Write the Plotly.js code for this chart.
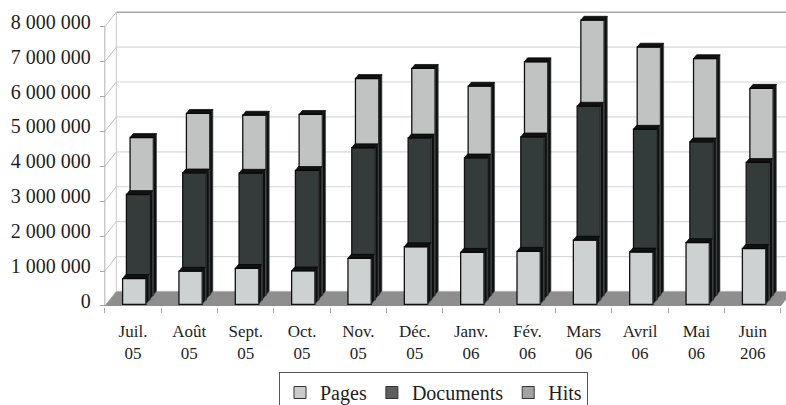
<!DOCTYPE html>
<html>
<head>
<meta charset="utf-8">
<script src="https://cdn.plot.ly/plotly-3.0.1.min.js"></script>
<style>
  html, body { margin: 0; padding: 0; background: #ffffff; }
  #chart { width: 786px; height: 405px; }
</style>
</head>
<body>
<div id="chart"></div>
<script>
// Monthly site statistics, July 2005 - June 2006
const months = ['Juil.<br>05', 'Août<br>05', 'Sept.<br>05', 'Oct.<br>05', 'Nov.<br>05', 'Déc.<br>05',
                'Janv.<br>06', 'Fév.<br>06', 'Mars<br>06', 'Avril<br>06', 'Mai<br>06', 'Juin<br>206'];
const pages     = [740000, 950000, 1030000, 960000, 1320000, 1650000, 1490000, 1520000, 1840000, 1500000, 1770000, 1600000];
const documents = [3010000, 3630000, 3620000, 3700000, 4350000, 4630000, 4060000, 4660000, 5540000, 4880000, 4520000, 3930000];
const hits      = [4510000, 5200000, 5150000, 5170000, 6200000, 6490000, 5980000, 6680000, 7870000, 7100000, 6770000, 5920000];
const yTicks    = [0, 1000000, 2000000, 3000000, 4000000, 5000000, 6000000, 7000000, 8000000];

// ---- pseudo-3D geometry -------------------------------------------------
const W = 786, H = 405;
const X0_PX = 105;          // pixel of the front value axis
const CAT_PX = 56.33;       // pixels per category
const Y0_PX = 305.8;        // pixel of value 0 on the front plane
const UNIT_PX = 34.9 / 1e6; // pixels per unit of value
const DEPTH_X_PX = 11.5, DEPTH_Y_PX = 14.5;       // full depth of the floor

const DX = DEPTH_X_PX / CAT_PX;                     // depth shift, category units
const DY = DEPTH_Y_PX / UNIT_PX;                    // depth shift, value units
const nCat = months.length;
const BW = 0.414;           // front face width (category units)
const BD = 0.27;            // box depth (fraction of full depth)

const xRange = [-0.05, (W - X0_PX) / CAT_PX];
const yRange = [-30000, 8450000];
const mL = X0_PX + xRange[0] * CAT_PX;
const mT = Y0_PX - yRange[1] * UNIT_PX;
const mB = H - (Y0_PX - yRange[0] * UNIT_PX);
const plotW = W - mL;

const centers = months.map((_, i) => i + 0.5);
const bounds = Array.from({length: nCat + 1}, (_, i) => i);

const font = '"Liberation Serif", "Times New Roman", serif';

function frontFace(name, vals, depth, color) {
  return {
    type: 'bar', name: name, x: centers, y: vals,
    base: depth * DY, width: BW, offset: depth * DX - BW / 2,
    marker: {color: color, line: {color: '#111111', width: 1.3}},
    showlegend: false, hoverinfo: 'skip'
  };
}

function boxFaces(vals, depth) {
  const sx = [], sy = [], tx = [], ty = [];
  const ddx = BD * DX, ddy = BD * DY;
  vals.forEach((v, i) => {
    const xl = centers[i] + depth * DX - BW / 2, xr = xl + BW;
    const b = depth * DY, t = b + v;
    sx.push(xr, xr, xr + ddx, xr + ddx, xr, null);
    sy.push(b, t, t + ddy, b + ddy, b, null);
    tx.push(xl, xr, xr + ddx, xl + ddx, xl, null);
    ty.push(t, t, t + ddy, t + ddy, t, null);
  });
  const common = {type: 'scatter', mode: 'lines', fill: 'toself', showlegend: false, hoverinfo: 'skip'};
  return [
    Object.assign({x: sx, y: sy, fillcolor: '#0c1010', line: {color: '#4a4a4a', width: 0.7}}, common),
    Object.assign({x: tx, y: ty, fillcolor: '#101212', line: {color: '#000000', width: 0.7}}, common)
  ];
}

function legendEntry(name, color) {
  return {type: 'bar', name: name, x: [null], y: [null],
          marker: {color: color, line: {color: '#333333', width: 1}}, hoverinfo: 'skip'};
}

const series = [
  {name: 'Hits', vals: hits, depth: 0.76, color: '#c1c3c3'},
  {name: 'Documents', vals: documents, depth: 0.44, color: '#343b3b'},
  {name: 'Pages', vals: pages, depth: 0.11, color: '#ced1d1'}
];

const traces = [
  legendEntry('Pages', '#cbcbcb'),
  legendEntry('Documents', '#5e5e5e'),
  legendEntry('Hits', '#a2a2a2')
];
series.forEach(s => traces.push(frontFace(s.name, s.vals, s.depth, s.color)));
series.forEach(s => boxFaces(s.vals, s.depth).forEach(f => traces.push(f)));

// ---- walls and floor ------------------------------------------------------
const shapes = [];
const wallLine = (x0, y0, x1, y1, color, width) => ({
  type: 'line', xref: 'x', yref: 'y', x0, y0, x1, y1, layer: 'below',
  line: {color: color, width: width}
});
const maxTick = yTicks[yTicks.length - 1];
yTicks.forEach(v => {
  const last = v === maxTick;
  shapes.push(wallLine(DX, v + DY, xRange[1] + 1, v + DY, last ? '#a8a8a8' : '#d8d8d8', last ? 1.6 : 1.2));
  shapes.push(wallLine(0, v, DX, v + DY, '#c2c2c2', 1));
});
shapes.push(wallLine(DX, DY, DX, maxTick + DY, '#c8c8c8', 1));
shapes.push(wallLine(0, 0, 0, maxTick, '#b0b0b0', 1));
shapes.push({
  type: 'path', xref: 'x', yref: 'y', layer: 'below',
  path: `M0,0L${nCat},0L${nCat + DX},${DY}L${DX},${DY}Z`,
  fillcolor: '#8e8e8e', line: {width: 0}
});

const layout = {
  width: W, height: H,
  margin: {l: mL, r: 0, t: mT, b: mB, autoexpand: false},
  paper_bgcolor: '#ffffff', plot_bgcolor: 'rgba(0,0,0,0)',
  barmode: 'overlay',
  separators: ', ',
  font: {family: font, color: '#1e1e1e'},
  xaxis: {
    range: xRange, showgrid: false, zeroline: false, showline: false,
    tickmode: 'array', tickvals: centers, ticktext: months, ticks: '',
    tickfont: {family: font, size: 17, color: '#1e1e1e'},
    ticklabelstandoff: 12,
    minor: {tickmode: 'array', tickvals: bounds, ticks: 'outside', ticklen: 5, tickcolor: '#a8a8a8', tickwidth: 1}
  },
  yaxis: {
    range: yRange, anchor: 'free', position: (X0_PX - mL) / plotW,
    showgrid: false, zeroline: false, showline: false,
    tickmode: 'array', tickvals: yTicks, tickformat: ',d',
    ticks: 'outside', ticklen: 5, tickcolor: '#a8a8a8', tickwidth: 1,
    tickfont: {family: font, size: 20, color: '#1e1e1e'},
    ticklabelstandoff: 5, ticklabelshift: -5
  },
  legend: {
    orientation: 'h', xref: 'container', yref: 'container',
    x: 433.5 / W, xanchor: 'center', y: 1 - 372 / H, yanchor: 'top',
    bgcolor: '#ffffff', bordercolor: '#555555', borderwidth: 1,
    font: {family: font, size: 20, color: '#1e1e1e'},
    traceorder: 'normal', itemclick: false, itemdoubleclick: false
  },
  shapes: shapes,
  showlegend: true
};

Plotly.newPlot('chart', traces, layout, {displayModeBar: false, staticPlot: true});
</script>
</body>
</html>
